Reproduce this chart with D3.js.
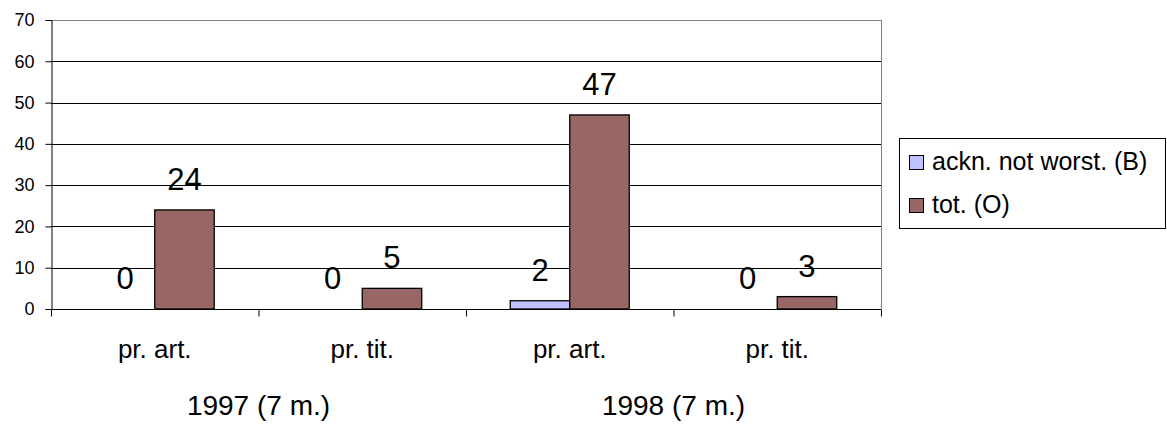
<!DOCTYPE html>
<html>
<head>
<meta charset="utf-8">
<script src="https://cdn.jsdelivr.net/npm/d3@7"></script>
<style>
	body { margin: 0; background: #fff; }
	text { font-family: "Liberation Sans", Arial, sans-serif; fill: #000; }
</style>
</head>
<body>
<div id="chart"></div>
<script>
// chart data
var categories = ["pr. art.", "pr. tit.", "pr. art.", "pr. tit."];
var groups = ["1997 (7 m.)", "1998 (7 m.)"];
var seriesNames = ["ackn. not worst. (B)", "tot. (O)"];
var seriesColors = ["#C0C0FF", "#996666"];
var acknValues = [0, 0, 2, 0];
var totValues = [24, 5, 47, 3];
var yTicks = [0, 10, 20, 30, 40, 50, 60, 70];

var opts = {
	width: 1167,
	height: 427,
	plotLeft: 51,
	plotRight: 881,
	plotTop: 20,
	plotBottom: 309
};

var svg = d3.select("#chart").append("svg")
	.attr("width", opts.width)
	.attr("height", opts.height);

var x0 = d3.scaleBand()
	.domain(d3.range(categories.length))
	.range([opts.plotLeft, opts.plotRight])
	.paddingInner(0);

var bw = x0.bandwidth();
var x1 = d3.scaleBand()
	.domain(d3.range(seriesNames.length))
	.range([bw * 0.2133, bw * 0.7867]);

var y = d3.scaleLinear()
	.domain([0, 70])
	.range([opts.plotBottom, opts.plotTop]);

// gridlines
svg.append("g").selectAll("line")
	.data(yTicks.filter(function(d) { return d > 0; }))
	.enter().append("line")
	.attr("x1", opts.plotLeft)
	.attr("x2", opts.plotRight)
	.attr("y1", function(d) { return Math.round(y(d)) + 0.5; })
	.attr("y2", function(d) { return Math.round(y(d)) + 0.5; })
	.attr("stroke", function(d) { return d === 70 ? "#808080" : "#000"; })
	.attr("stroke-width", 1);

// right border
svg.append("line")
	.attr("x1", opts.plotRight + 0.5).attr("x2", opts.plotRight + 0.5)
	.attr("y1", opts.plotTop).attr("y2", opts.plotBottom)
	.attr("stroke", "#808080");

// bars
var series = [acknValues, totValues];
series.forEach(function(values, s) {
	svg.append("g").selectAll("rect")
		.data(values)
		.enter().append("rect")
		.attr("x", function(d, i) { return x0(i) + x1(s); })
		.attr("y", function(d) { return y(d); })
		.attr("width", x1.bandwidth())
		.attr("height", function(d) { return y(0) - y(d); })
		.attr("fill", seriesColors[s])
		.attr("stroke", "#000")
		.attr("stroke-width", 1.3);

	// data labels
	svg.append("g").selectAll("text")
		.data(values)
		.enter().append("text")
		.attr("x", function(d, i) { return x0(i) + x1(s) + x1.bandwidth() / 2; })
		.attr("y", function(d) { return y(d) - 20; })
		.attr("text-anchor", "middle")
		.style("font-size", "31px")
		.text(function(d) { return d; });
});

// y axis
var yAxis = d3.axisLeft(y)
	.tickValues(yTicks)
	.tickSize(6)
	.tickPadding(11);

svg.append("g")
	.attr("transform", "translate(" + (opts.plotLeft + 0.5) + ",0)")
	.call(yAxis)
	.call(function(g) {
		g.select(".domain").attr("stroke", "#000");
		g.selectAll(".tick line").attr("stroke", "#000");
		g.selectAll(".tick text")
			.style("font-size", "18px")
			.style("font-family", "'Liberation Sans', Arial, sans-serif");
	});

// x axis
var boundaries = d3.range(categories.length + 1).map(function(i) {
	return opts.plotLeft + i * bw;
});
var xb = d3.scaleLinear().domain([opts.plotLeft, opts.plotRight]).range([opts.plotLeft, opts.plotRight]);
var xAxis = d3.axisBottom(xb)
	.tickValues(boundaries)
	.tickSize(7)
	.tickFormat("");

svg.append("g")
	.attr("transform", "translate(0," + (opts.plotBottom + 0.5) + ")")
	.call(xAxis)
	.call(function(g) {
		g.select(".domain").attr("stroke", "#000").attr("d", "M" + opts.plotLeft + ",0H" + opts.plotRight);
		g.selectAll(".tick line").attr("stroke", "#000");
	});

// category labels
svg.append("g").selectAll("text")
	.data(categories)
	.enter().append("text")
	.attr("x", function(d, i) { return x0(i) + bw / 2; })
	.attr("y", 358)
	.attr("text-anchor", "middle")
	.style("font-size", "26px")
	.text(function(d) { return d; });

// group labels
svg.append("g").selectAll("text")
	.data(groups)
	.enter().append("text")
	.attr("x", function(d, i) { return x0(i * 2) + bw; })
	.attr("y", 415)
	.attr("text-anchor", "middle")
	.style("font-size", "28px")
	.text(function(d) { return d; });

// legend
var legend = svg.append("g");
legend.append("rect")
	.attr("x", 899.5).attr("y", 138.5)
	.attr("width", 266).attr("height", 90)
	.attr("fill", "#fff")
	.attr("stroke", "#000");

var rows = legend.selectAll("g.row")
	.data(seriesNames)
	.enter().append("g")
	.attr("class", "row")
	.attr("transform", function(d, i) { return "translate(0," + (i * 43) + ")"; });

rows.append("rect")
	.attr("x", 909.5).attr("y", 155.5)
	.attr("width", 14).attr("height", 14)
	.attr("fill", function(d, i) { return seriesColors[i]; })
	.attr("stroke", "#000");

rows.append("text")
	.attr("x", 932)
	.attr("y", 170)
	.style("font-size", "25px")
	.text(function(d) { return d; });
</script>
</body>
</html>
